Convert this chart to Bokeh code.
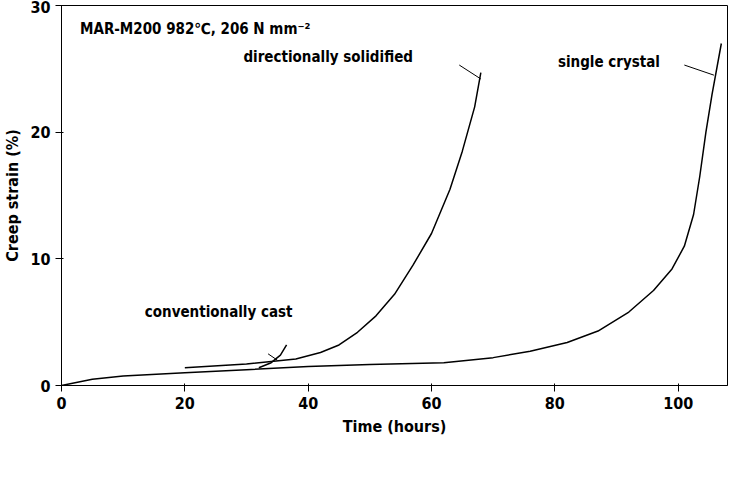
from bokeh.plotting import figure
from bokeh.models import Label, FixedTicker
from bokeh.embed import file_html
from bokeh.resources import INLINE

sc_t = [0, 5, 10, 20, 30, 40, 50, 62, 70, 76, 82, 87, 92, 96, 99, 101, 102.5, 103.5, 104.5, 105.5, 107]
sc_s = [0, 0.5, 0.75, 1.0, 1.25, 1.5, 1.65, 1.8, 2.2, 2.7, 3.4, 4.3, 5.8, 7.5, 9.2, 11, 13.5, 16.5, 20, 23, 27]
ds_t = [20, 30, 38, 42, 45, 48, 51, 54, 57, 60, 63, 65, 67, 68]
ds_s = [1.4, 1.7, 2.1, 2.6, 3.2, 4.2, 5.5, 7.2, 9.5, 12, 15.5, 18.5, 22, 24.7]
cc_t = [32, 34, 35.5, 36.5]
cc_s = [1.4, 1.8, 2.4, 3.2]

FONT = "DejaVu Sans Condensed"
p = figure(width=731, height=461, x_range=(0, 108), y_range=(0, 30),
           output_backend="svg", toolbar_location=None,
           x_axis_label="Time (hours)", y_axis_label="Creep strain (%)",
           min_border_left=58, min_border_right=4, min_border_top=5,
           min_border_bottom=76)
p.xgrid.visible = False
p.ygrid.visible = False
p.outline_line_color = "black"
p.xaxis.ticker = FixedTicker(ticks=[0, 20, 40, 60, 80, 100])
p.yaxis.ticker = FixedTicker(ticks=[0, 10, 20, 30])
p.xaxis.minor_tick_line_color = None
p.yaxis.minor_tick_line_color = None
for ax in (p.xaxis, p.yaxis):
    ax.axis_label_text_font = FONT
    ax.axis_label_text_font_style = "bold"
    ax.axis_label_text_font_size = "16px"
    ax.major_label_text_font = FONT
    ax.major_label_text_font_style = "bold"
    ax.major_label_text_font_size = "16px"
    ax.major_label_text_color = "black"
    ax.axis_label_text_color = "black"

for t, s in ((sc_t, sc_s), (ds_t, ds_s), (cc_t, cc_s)):
    p.line(t, s, line_color="black", line_width=1.5)

# leader lines
p.line([64.5, 68], [25.3, 24.2], line_color="black", line_width=1)
p.line([101, 105.8], [25.3, 24.5], line_color="black", line_width=1)
p.line([33.5, 35], [2.5, 2.0], line_color="black", line_width=1)

for x, y, t in ((3, 27.4, "MAR-M200 982℃, 206 N mm⁻²"),
                (29.5, 25.2, "directionally solidified"),
                (80.5, 24.8, "single  crystal"),
                (13.5, 5.1, "conventionally cast")):
    p.add_layout(Label(x=x, y=y, text=t, text_font=FONT, text_font_size="15px",
                       text_font_style="bold", text_color="black"))

open("out.html", "w").write(file_html(p, INLINE))
